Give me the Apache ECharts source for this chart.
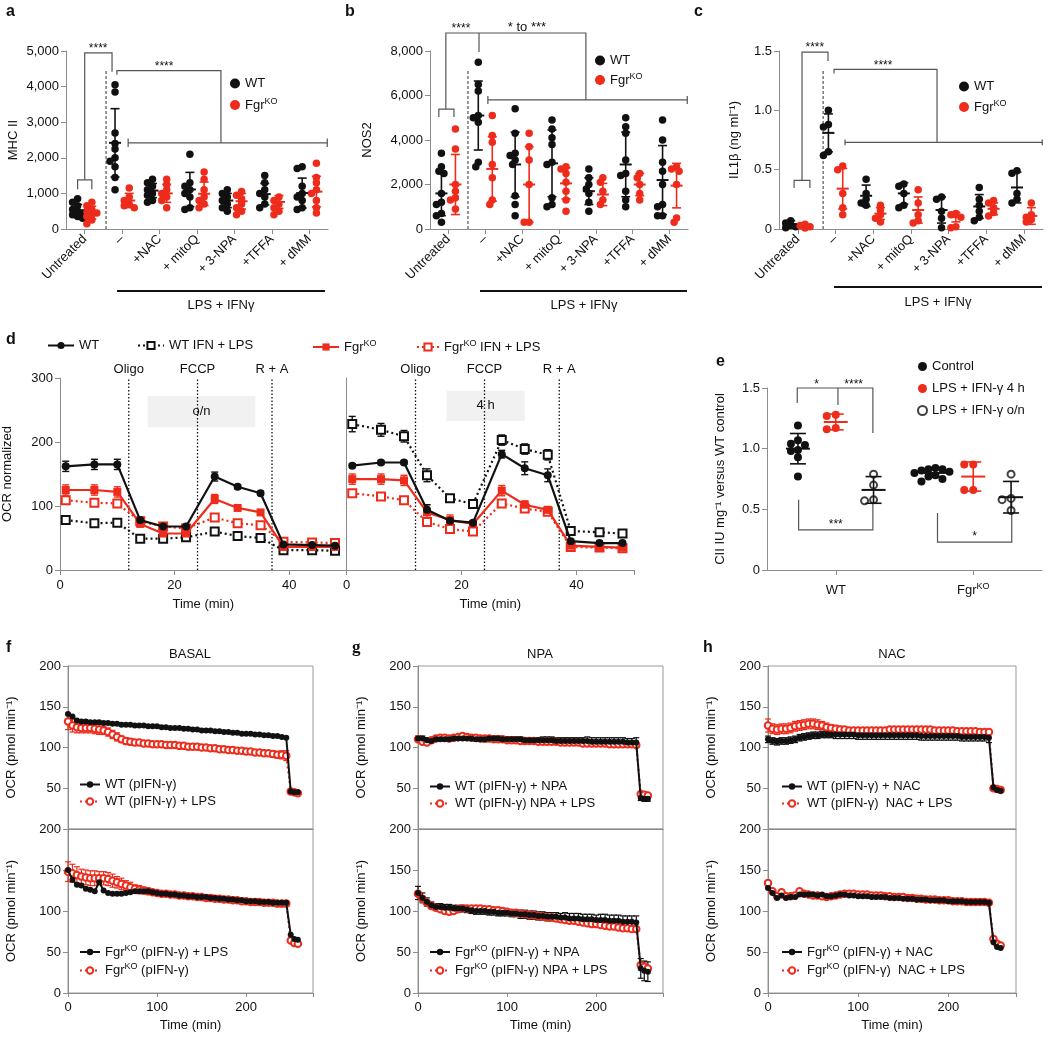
<!DOCTYPE html>
<html><head><meta charset="utf-8">
<script src="https://cdn.jsdelivr.net/npm/echarts@6/dist/echarts.min.js"></script>
<style>html,body{margin:0;background:#fff}#c{width:1050px;height:1038px}</style>
</head><body><div id="c"></div>
<script>
// ---------------- DATA ----------------
const TREAT_CATS = ['Untreated','–','+NAC','+ mitoQ','+ 3-NPA','+TFFA','+ dMM'];
// a: MHC II
const aWT = [[850,750,650,550,500,450,400,350,300],[4050,3850,2700,2400,2250,2000,1900,1750,1450,1100],[1400,1300,1200,1100,1000,950,800,750],[2100,1300,1200,1100,1000,900,600,550],[1100,1000,900,800,700,600,500],[1500,1300,1100,1000,900,700,600],[1750,1700,1200,1000,900,800,600,550]];
const aWTmean = [520,2420,1080,1110,800,980,1010];
const aWTsd = [170,960,200,480,200,300,420];
const aKO = [[750,650,550,500,450,400,350,250,150],[1150,900,800,700,650,600],[1400,1250,1100,1000,900,800,600],[1600,1400,1100,900,800,700,600],[1050,950,850,700,600,500,400],[900,800,700,600,500,400],[1850,1450,1300,1100,1000,800,600,450]];
const aKOmean = [460,800,1000,990,780,760,1050];
const aKOsd = [180,200,250,330,220,180,430];
// b: NOS2
const bWT = [[3400,2800,2600,2500,1600,1200,1100,700,600,300],[7500,6500,6200,5100,5000,4800,3000,2800],[5400,4300,3400,3300,3100,2900,1500,1100,600],[4900,4500,4100,3800,3000,2900,1400,1100,1000],[2700,2300,2000,1800,1600,1200,800],[5000,4600,4300,3100,2500,2400,1700,1300,1000],[4900,4000,3000,2600,2000,1100,1000,600,600]];
const bWTmean = [1600,5100,2900,2950,1700,2900,2200];
const bWTsd = [1000,1550,1450,1500,600,1450,1550];
const bKO = [[4500,3600,2000,1700,1400,1300,900],[5100,4200,3900,2900,2300,1300,1100],[4300,3700,3100,2000,300,300],[2800,2700,2500,2100,1700,1300,800],[2300,2100,1700,1300,1100],[2500,2300,2000,1600,1300],[2800,2700,2600,2000,500,300]];
const bKOmean = [2000,2700,2000,2050,1550,2000,1950];
const bKOsd = [1350,1450,1700,700,500,500,1000];
// c: IL1b
const cWT = [[0.07,0.05,0.03,0.02,0.01],[1.0,0.88,0.86,0.65,0.62],[0.42,0.3,0.25,0.22,0.2],[0.38,0.36,0.3,0.2,0.18],[0.27,0.25,0.15,0.09,0.01],[0.35,0.25,0.2,0.15,0.1,0.07],[0.49,0.47,0.3,0.25,0.22]];
const cWTmean = [0.04,0.81,0.28,0.3,0.16,0.19,0.35];
const cWTsd = [0.03,0.16,0.09,0.09,0.11,0.1,0.13];
const cKO = [[0.04,0.03,0.02,0.01,0.01],[0.53,0.5,0.3,0.18,0.12],[0.2,0.16,0.12,0.09,0.06],[0.33,0.22,0.12,0.07,0.05],[0.13,0.12,0.1,0.02,0.01],[0.24,0.22,0.18,0.14,0.11],[0.22,0.12,0.1,0.08,0.06]];
const cKOmean = [0.02,0.34,0.13,0.16,0.1,0.17,0.11];
const cKOsd = [0.01,0.17,0.05,0.11,0.04,0.05,0.07];
// d: OCR normalized
const dTime = [1,6,10,14,18,22,27,31,35,39,44,48];
const dOnWT = [162,165,165,78,68,68,146,130,120,40,39,38];
const dOnWTerr = [8,8,8,3,3,3,7,3,3,3,3,3];
const dOnWTifn = [78,73,74,49,49,51,60,53,50,31,31,30];
const dOnWTifnErr = [4,4,4,3,3,3,4,3,3,3,3,3];
const dOnKO = [125,125,122,72,57,57,111,97,90,36,36,36];
const dOnKOerr = [8,8,8,4,4,4,7,4,4,3,3,3];
const dOnKOifn = [109,105,104,76,68,65,82,73,70,44,43,42];
const dOnKOifnErr = [4,4,4,4,3,3,5,4,4,3,3,3];
const d4hWT = [163,168,168,94,77,74,181,159,148,45,42,42];
const d4hWTerr = [3,3,3,8,4,3,6,10,10,3,3,3];
const d4hWTifn = [228,219,209,148,112,103,203,189,180,61,59,57];
const d4hWTifnErr = [12,10,9,10,3,3,8,8,8,3,3,3];
const d4hKO = [142,142,140,90,78,72,124,102,94,38,36,35];
const d4hKOerr = [8,8,8,12,8,5,8,6,5,3,3,3];
const d4hKOifn = [120,115,109,75,64,60,104,96,91,36,35,34];
const d4hKOifnErr = [4,4,4,5,5,4,4,4,4,3,3,3];
const dInjections = [['Oligo',12],['FCCP',24],['R + A',37]];
// e: CII activity
const eCats = ['WT','FgrKO'];
const eControl = [[1.19,1.07,1.04,1.03,0.99,0.98,0.93,0.77],[0.84,0.83,0.83,0.82,0.81,0.80,0.78,0.77,0.75,0.73]];
const eControlMean = [1.0,0.80], eControlSd = [0.125,0.035];
const e4h = [[1.28,1.27,1.17,1.16],[0.87,0.87,0.66,0.66]];
const e4hMean = [1.22,0.77], e4hSd = [0.065,0.12];
const eOn = [[0.79,0.70,0.58,0.57],[0.79,0.59,0.58,0.49]];
const eOnMean = [0.66,0.60], eOnSd = [0.11,0.13];
// f/g/h: OCR time course
const T = [0,5,10,15,20,25,30,35,40,45,50,55,60,65,70,75,80,85,90,95,100,105,110,115,120,125,130,135,140,145,150,155,160,165,170,175,180,185,190,195,200,205,210,215,220,225,230,235,240,245,250,254,258];
const fTopWT = [141,138,133,132,132,131,131,131,130,130,129,129,128,128,128,127,127,127,126,126,126,125,125,124,124,124,123,123,122,122,121,121,121,120,120,119,119,118,118,117,117,117,116,116,115,115,114,114,113,112,46,45,45];
const fTopLPS = [132,127,125,124,124,124,123,122,121,119,116,113,110,108,107,106,106,105,105,104,104,104,103,103,103,102,102,101,101,101,100,100,99,99,98,98,97,97,96,96,95,95,94,94,93,93,92,91,91,90,46,45,44];
const fTopLPSerr = [10,8,7,6,6,6,6,6,5,5,5,5,4,4,4,3,3,3,3,3,3,3,3,3,3,3,3,3,3,3,3,3,3,3,3,3,3,3,3,3,3,3,3,3,3,3,4,4,5,6,3,2,2];
const fBotLPS = [150,138,132,131,127,126,124,135,125,122,121,121,121,122,123,124,124,124,124,123,122,121,121,120,120,119,119,118,118,117,117,117,116,116,115,115,114,114,113,113,112,112,112,111,111,111,110,110,110,110,71,66,65];
const fBotKO = [148,146,144,142,141,140,140,140,140,139,137,135,133,131,129,127,126,125,124,123,122,121,121,120,120,119,119,118,118,117,117,116,116,115,115,114,114,113,113,112,112,111,111,111,110,110,110,109,109,109,64,61,60];
const fBotKOerr = [12,11,10,9,9,9,9,8,8,8,8,7,7,6,6,5,5,4,4,3,3,3,3,3,3,3,3,3,3,3,3,3,3,3,3,3,3,3,3,3,3,3,3,3,3,3,3,3,3,3,2,2,2];
const gTopWT = [111,111,109,108,110,110,110,110,111,111,111,111,111,110,110,110,111,111,111,110,110,110,110,110,109,109,109,109,109,109,109,108,108,108,108,108,108,108,108,107,107,107,107,107,107,107,107,106,106,106,38,37,37];
const gTopWTerr = [3,3,3,2,2,2,2,2,2,2,2,2,2,2,2,3,3,3,3,3,3,3,3,3,3,3,3,3,4,4,4,4,4,4,4,4,4,4,5,5,5,5,5,5,5,5,5,5,5,6,3,3,3];
const gTopLPS = [110,107,106,109,111,112,112,111,112,113,114,113,112,112,111,111,111,110,110,110,109,109,109,108,108,108,108,107,107,107,107,107,106,106,106,106,106,105,105,105,105,105,105,104,104,104,104,104,104,103,43,42,41];
const gBotWT = [122,116,111,107,105,105,104,104,103,103,103,102,101,100,100,100,99,99,98,98,98,97,97,96,96,95,95,94,94,93,93,93,92,92,91,91,91,90,90,90,89,89,89,88,88,88,87,87,87,86,30,27,26];
const gBotWTerr = [8,6,5,4,4,4,4,4,4,4,4,4,4,4,4,4,4,4,4,4,4,4,4,5,5,5,5,5,5,5,5,5,5,6,6,6,6,6,6,6,6,7,7,7,7,7,7,7,7,8,12,12,12];
const gBotLPS = [121,115,110,106,104,102,100,99,100,102,103,103,103,103,103,102,102,101,101,100,99,98,98,97,96,95,95,94,93,92,92,91,90,89,88,88,87,86,85,84,84,83,82,81,81,80,79,79,78,78,34,32,30];
const hTopWT = [110,108,107,108,108,109,110,112,113,114,115,115,116,116,116,116,116,116,116,116,115,115,115,115,115,115,115,115,115,115,115,115,115,115,114,114,114,114,114,114,114,114,114,113,113,113,113,113,113,112,51,48,47];
const hTopWTerr = [4,4,4,4,4,4,4,4,4,4,4,4,4,4,4,5,5,5,5,5,5,5,5,5,5,5,5,5,5,5,5,5,5,5,5,5,5,5,5,5,5,5,5,5,5,5,5,5,5,6,2,2,2];
const hTopLPS = [127,123,122,123,123,124,126,127,128,129,129,128,127,125,124,123,122,122,121,121,121,121,121,121,121,121,121,122,122,122,122,122,122,122,122,122,122,121,121,121,121,121,120,120,120,120,120,119,119,119,50,49,48];
const hTopLPSerr = [8,6,6,6,6,6,6,6,6,6,6,6,5,5,4,4,4,3,3,3,3,3,3,3,3,3,3,3,3,3,3,3,3,3,3,3,3,3,3,3,3,3,3,3,3,3,3,3,3,3,2,2,2];
const hBotWT = [128,122,116,119,116,117,117,120,120,120,120,119,120,118,118,119,120,120,119,119,118,118,118,117,117,117,117,116,116,116,115,115,115,114,114,114,113,113,113,113,112,112,112,112,111,111,111,111,111,110,62,56,55];
const hBotLPS = [134,124,118,123,118,118,119,124,121,120,119,119,118,117,118,119,120,121,121,121,120,120,120,119,119,119,118,118,117,117,117,116,116,115,115,114,114,114,113,113,113,112,112,112,111,111,111,111,111,110,66,60,58];

// ---------------- STYLE / HELPERS ----------------
const FONT = '"Liberation Sans", Arial, Helvetica, sans-serif';
const RED = '#ee2c1c', BLK = '#111', AXC = '#8c8c8c', BRK = '#555';
const RICH = {
  n: {fontSize: 13, fontFamily: FONT, color: BLK, lineHeight: 16},
  s: {fontSize: 9, fontFamily: FONT, color: BLK, lineHeight: 16, verticalAlign: 'top'}
};
function fmt(name) {
  const parts = name.trim().split('KO');
  return parts.map(p => p ? '{n|' + p + '}' : '').join('{s|KO}');
}
function swarm(vals, pxPerVal, step, d) {
  const idx = vals.map((v, i) => i).sort((a, b) => vals[b] - vals[a]);
  const placed = [], off = new Array(vals.length).fill(0);
  const cands = [0, -step, step, -2 * step, 2 * step, -3 * step, 3 * step];
  idx.forEach(i => {
    const y = vals[i] * pxPerVal;
    for (const c of cands) {
      if (placed.every(p => (p.x - c) * (p.x - c) + (p.y - y) * (p.y - y) >= d * d)) { off[i] = c; placed.push({x: c, y}); return; }
    }
    placed.push({x: 0, y});
  });
  return off;
}
function dots(groups, shift, pxPerUnit, pxPerVal, step, d) {
  const out = [];
  groups.forEach((vals, g) => {
    const off = swarm(vals, pxPerVal, step, d);
    vals.forEach((v, i) => out.push([g + shift + off[i] / pxPerUnit, v]));
  });
  return out;
}
function statData(mean, sd, shift) { return mean.map((m, g) => [g + shift, m, sd[g]]); }
function errSeries(data, xi, yi, color, meanHalf, capHalf, lw, z) {
  return {
    type: 'custom', xAxisIndex: xi, yAxisIndex: yi, data, z: z || 6, silent: true, animation: false,
    renderItem(p, api) {
      const x = api.value(0), m = api.value(1), s = api.value(2);
      const c = api.coord([x, m]), t = api.coord([x, m + s]), b = api.coord([x, m - s]);
      const st = {stroke: color, lineWidth: lw};
      const ch = [
        {type: 'line', shape: {x1: c[0], y1: t[1], x2: c[0], y2: b[1]}, style: st},
        {type: 'line', shape: {x1: c[0] - capHalf, y1: t[1], x2: c[0] + capHalf, y2: t[1]}, style: st},
        {type: 'line', shape: {x1: c[0] - capHalf, y1: b[1], x2: c[0] + capHalf, y2: b[1]}, style: st}
      ];
      if (meanHalf) ch.push({type: 'line', shape: {x1: c[0] - meanHalf, y1: c[1], x2: c[0] + meanHalf, y2: c[1]}, style: {stroke: color, lineWidth: lw + 0.4}});
      return {type: 'group', children: ch};
    }
  };
}
// annotation series drawn in data coordinates
function annot(xi, yi, items, z) {
  return {
    type: 'custom', xAxisIndex: xi, yAxisIndex: yi, data: [[0, 0]], z: z == null ? 3 : z, silent: true, animation: false,
    renderItem(p, api) {
      const ch = [];
      items.forEach(it => {
        if (it.poly) {
          ch.push({type: 'polyline', shape: {points: it.poly.map(q => api.coord(q))},
            style: {stroke: it.color || BRK, lineWidth: it.lw || 1.2, fill: null, lineDash: it.dash || null}});
        } else if (it.rect) {
          const a = api.coord(it.rect[0]), b = api.coord(it.rect[1]);
          ch.push({type: 'rect', shape: {x: Math.min(a[0], b[0]), y: Math.min(a[1], b[1]), width: Math.abs(b[0] - a[0]), height: Math.abs(b[1] - a[1])}, style: {fill: it.fill}});
        } else if (it.text) {
          const a = api.coord(it.at);
          ch.push({type: 'text', x: a[0] + (it.dx || 0), y: a[1] + (it.dy || 0),
            style: {text: it.text, fill: it.color || BLK, font: (it.size || 13) + 'px ' + FONT,
              align: 'center', verticalAlign: 'middle', textAlign: 'center', textVerticalAlign: 'middle'}});
        }
      });
      return {type: 'group', children: ch};
    }
  };
}
const lbl = {color: BLK, fontSize: 13, fontFamily: FONT};
const axLine = {show: true, onZero: false, lineStyle: {color: AXC, width: 1}};
const axTick = {show: true, lineStyle: {color: AXC}, length: 5};

// ---------------- LAYOUT ----------------
const grids = [
  {left: 66, top: 51, width: 262, height: 178},   // a
  {left: 430, top: 51, width: 258, height: 178},  // b
  {left: 779, top: 51, width: 264, height: 178},  // c
  {left: 59, top: 378, width: 287.5, height: 192},  // d left
  {left: 346.5, top: 378, width: 287.5, height: 192}, // d right
  {left: 767, top: 388, width: 275, height: 182},  // e
  {left: 68, top: 666, width: 245, height: 163},   // f top
  {left: 68, top: 829, width: 245, height: 164},   // f bottom
  {left: 418, top: 666, width: 245, height: 163},  // g top
  {left: 418, top: 829, width: 245, height: 164},  // g bottom
  {left: 768, top: 666, width: 248, height: 163},  // h top
  {left: 768, top: 829, width: 248, height: 164}   // h bottom
];
grids.forEach((g, i) => { if (i >= 6) { g.show = true; g.borderColor = '#9a9a9a'; g.borderWidth = 1; } });

const xAxis = [], yAxis = [];
function catX(gi, cats, rotate) {
  xAxis.push({type: 'category', gridIndex: gi, data: cats,
    axisLine: axLine, axisTick: {show: true, alignWithLabel: true, length: 5, lineStyle: {color: AXC}},
    axisLabel: Object.assign({rotate: rotate, margin: 8, interval: 0, rich: RICH, formatter: v => fmt(v)}, lbl)});
  return xAxis.length - 1;
}
function hidX(gi, min, max) { xAxis.push({type: 'value', gridIndex: gi, min, max, show: false, axisLine: {onZero: false}}); return xAxis.length - 1; }
function valY(gi, min, max, interval, fmtFn, name, nameGap, showLabels) {
  yAxis.push({type: 'value', gridIndex: gi, min, max, interval, splitLine: {show: false},
    axisLine: axLine, axisTick: showLabels === false ? {show: false} : axTick,
    axisLabel: Object.assign({show: showLabels !== false, formatter: fmtFn, margin: 7}, lbl),
    name: name || '', nameLocation: 'middle', nameGap: nameGap || 40, nameRotate: 90,
    nameTextStyle: {color: BLK, fontSize: 13, fontFamily: FONT}});
  return yAxis.length - 1;
}
const commas = v => v.toLocaleString('en-US');
const dec1 = v => v === 0 ? '0' : v.toFixed(1);

// a
const aX = catX(0, TREAT_CATS, 45), aXv = hidX(0, -0.5, 6.5), aY = valY(0, 0, 5000, 1000, commas, 'MHC II', 46);
// b
const bX = catX(1, TREAT_CATS, 45), bXv = hidX(1, -0.5, 6.5), bY = valY(1, 0, 8000, 2000, commas, 'NOS2', 56);
// c
const cX = catX(2, TREAT_CATS, 45), cXv = hidX(2, -0.5, 6.5), cY = valY(2, 0, 1.5, 0.5, dec1, 'IL1β (ng ml⁻¹)', 38);
// d
function dX(gi) {
  xAxis.push({type: 'value', gridIndex: gi, min: 0, max: 50, interval: 20, splitLine: {show: false},
    axisLine: axLine, axisTick: {show: true, length: 5, lineStyle: {color: AXC}},
    axisLabel: Object.assign({formatter: v => (v % 20 === 0 ? String(v) : ''), margin: 9}, lbl),
    name: 'Time (min)', nameLocation: 'middle', nameGap: 28, nameTextStyle: {color: BLK, fontSize: 13, fontFamily: FONT}});
  return xAxis.length - 1;
}
const dXl = dX(3), dXr = dX(4);
const dYl = valY(3, 0, 300, 100, v => String(v), 'OCR normalized', 46);
const dYr = valY(4, 0, 300, 100, v => String(v), '', 0, false);
// e
const eX = catX(5, eCats, 0), eXv = hidX(5, -0.5, 1.5), eY = valY(5, 0, 1.5, 0.5, dec1, 'CII IU mg⁻¹ versus WT control', 40);
xAxis[eX].axisLabel.margin = 12;
// f/g/h
const fghX = [], fghY = [];
for (let k = 0; k < 6; k++) {
  const gi = 6 + k, bottom = k % 2 === 1;
  xAxis.push({type: 'value', gridIndex: gi, min: 0, max: 275, interval: 100, splitLine: {show: false},
    axisLine: axLine, axisTick: {show: bottom, length: 4, lineStyle: {color: AXC}},
    axisLabel: Object.assign({show: bottom, formatter: v => (v % 100 === 0 ? String(v) : ''), margin: 8}, lbl),
    name: bottom ? 'Time (min)' : '', nameLocation: 'middle', nameGap: 26, nameTextStyle: {color: BLK, fontSize: 13, fontFamily: FONT}});
  fghX.push(xAxis.length - 1);
  fghY.push(valY(gi, 0, 200, 50, v => (!bottom && v === 0) ? '' : String(v), 'OCR (pmol min⁻¹)', 50));
}

// ---------------- SERIES ----------------
const series = [];
function dotSeries(name, data, xi, yi, color, symbol, size) {
  return {name, type: 'scatter', xAxisIndex: xi, yAxisIndex: yi, data, symbol: symbol || 'circle', symbolSize: size || 7,
    itemStyle: symbol === 'emptyCircle' ? {color: color, borderColor: color, borderWidth: 1.6} : {color: color, opacity: 1},
    z: 4, silent: true, animation: false};
}
// panels a-c
[[aXv, aY, aWT, aKO, aWTmean, aWTsd, aKOmean, aKOsd, 262 / 7, 178 / 5000],
 [bXv, bY, bWT, bKO, bWTmean, bWTsd, bKOmean, bKOsd, 258 / 7, 178 / 8000],
 [cXv, cY, cWT, cKO, cWTmean, cWTsd, cKOmean, cKOsd, 264 / 7, 178 / 1.5]].forEach(P => {
  const [xi, yi, wt, ko, wm, ws, km, ks, ppu, ppv] = P;
  series.push(dotSeries('WT ', dots(wt, -0.19, ppu, ppv, 2.5, 4.5), xi, yi, BLK, 'circle', 7.5));
  series.push(dotSeries('FgrKO ', dots(ko, 0.19, ppu, ppv, 2.5, 4.5), xi, yi, RED, 'circle', 7.5));
  series.push(errSeries(statData(wm, ws, -0.19), xi, yi, BLK, 6, 4.5, 1.6));
  series.push(errSeries(statData(km, ks, 0.19), xi, yi, RED, 6, 4.5, 1.6));
});
// brackets a
series.push(annot(aXv, aY, [
  {poly: [[-0.19, 1120], [-0.19, 1380], [0.19, 1380], [0.19, 1120]]},
  {poly: [[0, 1380], [0, 4950], [0.73, 4950], [0.73, 4420]]},
  {poly: [[0.57, 0], [0.57, 4480]], dash: [3, 2]},
  {poly: [[0.86, 4330], [0.86, 4450], [3.64, 4450], [3.64, 2420]]},
  {poly: [[1.16, 2420], [6.48, 2420]]}, {poly: [[1.16, 2300], [1.16, 2540]]}, {poly: [[6.48, 2300], [6.48, 2540]]},
  {text: '****', at: [0.36, 4950], dy: -4, size: 12},
  {text: '****', at: [2.12, 4450], dy: -4, size: 12}
]));
series.push(annot(bXv, bY, [
  {poly: [[-0.26, 5030], [-0.26, 5390], [0.15, 5390], [0.15, 5030]]},
  {poly: [[-0.07, 5390], [-0.07, 8810], [3.73, 8810], [3.73, 5800]]},
  {poly: [[0.83, 8810], [0.83, 7960]]},
  {poly: [[0.53, 0], [0.53, 7150]], dash: [3, 2]},
  {poly: [[1.07, 5800], [6.48, 5800]]}, {poly: [[1.07, 5620], [1.07, 5980]]}, {poly: [[6.48, 5620], [6.48, 5980]]},
  {text: '****', at: [0.34, 8810], dy: -4, size: 12},
  {text: '* to ***', at: [2.13, 8810], dy: -6, size: 13}
]));
series.push(annot(cXv, cY, [
  {poly: [[-0.1, 0.345], [-0.1, 0.41], [0.32, 0.41], [0.32, 0.345]]},
  {poly: [[0.11, 0.41], [0.11, 1.49], [0.8, 1.49], [0.8, 1.415]]},
  {poly: [[0.67, 0], [0.67, 1.34]], dash: [3, 2]},
  {poly: [[0.96, 1.31], [0.96, 1.345], [3.69, 1.345], [3.69, 0.73]]},
  {poly: [[1.25, 0.73], [6.48, 0.73]]}, {poly: [[1.25, 0.705], [1.25, 0.755]]}, {poly: [[6.48, 0.705], [6.48, 0.755]]},
  {text: '****', at: [0.45, 1.49], dy: -4, size: 12},
  {text: '****', at: [2.26, 1.345], dy: -4, size: 12}
]));

// panel d
function dAnnot(xi, yi, box, boxLabel) {
  const items = [{rect: box, fill: '#f1f1f1'}, {text: boxLabel, at: [(box[0][0] + box[1][0]) / 2, (box[0][1] + box[1][1]) / 2]}];
  dInjections.forEach(([t, x]) => {
    items.push({poly: [[x, 0], [x, 300]], color: BLK, lw: 1.3, dash: [1.5, 2]});
    items.push({text: t, at: [x, 300], dy: -9});
  });
  return annot(xi, yi, items, 1);
}
series.push(dAnnot(dXl, dYl, [[15.3, 272], [34.1, 223]], 'o/n'));
series.push(dAnnot(dXr, dYr, [[17.4, 280], [31, 233]], '4 h'));
function lineSeries(name, xs, ys, xi, yi, color, symbol, size, dotted, lw, z) {
  const empty = symbol.startsWith('empty');
  return {name, type: 'line', xAxisIndex: xi, yAxisIndex: yi, data: xs.map((x, i) => [x, ys[i]]),
    symbol, symbolSize: size, showSymbol: true, showAllSymbol: true, silent: true, animation: false,
    lineStyle: {color, width: lw || 2, type: dotted ? [2, 3] : 'solid'},
    itemStyle: empty ? {color: color, borderColor: color, borderWidth: 1.6} : {color: color},
    z: z || 5};
}
function errPts(xs, ys, es) { return xs.map((x, i) => [x, ys[i], es[i]]); }
[[dXl, dYl, dOnWT, dOnWTerr, dOnWTifn, dOnWTifnErr, dOnKO, dOnKOerr, dOnKOifn, dOnKOifnErr],
 [dXr, dYr, d4hWT, d4hWTerr, d4hWTifn, d4hWTifnErr, d4hKO, d4hKOerr, d4hKOifn, d4hKOifnErr]].forEach(P => {
  const [xi, yi, wt, wte, wi, wie, ko, koe, ki, kie] = P;
  series.push(errSeries(errPts(dTime, ki, kie), xi, yi, RED, 0, 3.5, 1.4, 4));
  series.push(errSeries(errPts(dTime, wi, wie), xi, yi, BLK, 0, 3.5, 1.4, 4));
  series.push(errSeries(errPts(dTime, ko, koe), xi, yi, RED, 0, 3.5, 1.4, 4));
  series.push(errSeries(errPts(dTime, wt, wte), xi, yi, BLK, 0, 3.5, 1.4, 4));
  series.push(lineSeries('FgrKO IFN + LPS', dTime, ki, xi, yi, RED, 'emptyRect', 8, true, 2.2, 5));
  series.push(lineSeries('WT IFN + LPS', dTime, wi, xi, yi, BLK, 'emptyRect', 8, true, 2.2, 5));
  series.push(lineSeries('FgrKO', dTime, ko, xi, yi, RED, 'rect', 8, false, 2.2, 6));
  series.push(lineSeries('WT', dTime, wt, xi, yi, BLK, 'circle', 8, false, 2.2, 7));
});

// panel e
const ePPU = 275 / 2, ePPV = 182 / 1.5;
series.push(dotSeries('Control', dots(eControl, -0.275, ePPU, ePPV, 7, 7), eXv, eY, BLK, 'circle', 8));
series.push(dotSeries('LPS + IFN-γ 4 h', dots(e4h, 0, ePPU, ePPV, 9, 8), eXv, eY, RED, 'circle', 8));
series.push(dotSeries('LPS + IFN-γ o/n', dots(eOn, 0.275, ePPU, ePPV, 9, 8), eXv, eY, BLK, 'emptyCircle', 7));
series.push(errSeries(statData(eControlMean, eControlSd, -0.275), eXv, eY, BLK, 12, 8, 1.6));
series.push(errSeries(statData(e4hMean, e4hSd, 0), eXv, eY, RED, 12, 8, 1.6));
series.push(errSeries(statData(eOnMean, eOnSd, 0.275), eXv, eY, BLK, 12, 8, 1.6));
series.push(annot(eXv, eY, [
  {poly: [[-0.28, 1.376], [-0.28, 1.5], [0.27, 1.5], [0.27, 1.13]]},
  {poly: [[0.016, 1.5], [0.016, 1.36]]},
  {poly: [[-0.27, 0.58], [-0.27, 0.33], [0.27, 0.33], [0.27, 0.59]]},
  {poly: [[0.74, 0.47], [0.74, 0.23], [1.28, 0.23], [1.28, 0.58]]},
  {text: '*', at: [-0.14, 1.5], dy: -3, size: 12},
  {text: '****', at: [0.13, 1.5], dy: -3, size: 12},
  {text: '***', at: [0, 0.33], dy: -5, size: 12},
  {text: '*', at: [1.01, 0.23], dy: -5, size: 12}
]));

// panels f/g/h
const fghSets = [
  ['WT (pIFN-γ)', fTopWT, null, 'WT (pIFN-γ) + LPS', fTopLPS, fTopLPSerr],
  ['FgrKO (pIFN-γ) + LPS', fBotLPS, null, 'FgrKO (pIFN-γ)', fBotKO, fBotKOerr],
  ['WT (pIFN-γ) + NPA', gTopWT, gTopWTerr, 'WT (pIFN-γ) NPA + LPS', gTopLPS, null],
  ['FgrKO (pIFN-γ) + NPA', gBotWT, gBotWTerr, 'FgrKO (pIFN-γ) NPA + LPS', gBotLPS, null],
  ['WT (pIFN-γ) + NAC', hTopWT, hTopWTerr, 'WT (pIFN-γ)  NAC + LPS', hTopLPS, hTopLPSerr],
  ['FgrKO (pIFN-γ) + NAC', hBotWT, null, 'FgrKO (pIFN-γ)  NAC + LPS', hBotLPS, null]
];
fghSets.forEach((S, k) => {
  const xi = fghX[k], yi = fghY[k];
  const [bn, bv, be, rn, rv, re] = S;
  if (re) series.push(errSeries(errPts(T, rv, re), xi, yi, RED, 0, 3, 1.2, 4));
  series.push(lineSeries(rn, T, rv, xi, yi, RED, 'emptyCircle', 6.5, true, 2, 5));
  if (be) series.push(errSeries(errPts(T, bv, be), xi, yi, BLK, 0, 3, 1.2, 5));
  series.push(lineSeries(bn, T, bv, xi, yi, BLK, 'circle', 6, false, 2, 6));
});

// ---------------- LEGENDS ----------------
const legTxt = {color: BLK, fontSize: 13, fontFamily: FONT, rich: RICH};
function leg(names, left, top, opts) {
  return Object.assign({data: names, left, top, orient: 'vertical', itemGap: 6, selectedMode: false,
    textStyle: legTxt, formatter: n => fmt(n), padding: 0}, opts || {});
}
const legends = [
  leg(['WT ', 'FgrKO '], 230, 77, {itemWidth: 10, itemHeight: 10, itemGap: 7, icon: 'circle'}),
  leg(['WT ', 'FgrKO '], 595, 54, {itemWidth: 10, itemHeight: 10, itemGap: 5, icon: 'circle'}),
  leg(['WT ', 'FgrKO '], 959, 80, {itemWidth: 10, itemHeight: 10, itemGap: 6, icon: 'circle'}),
  leg(['WT'], 47, 339, {itemWidth: 26, itemHeight: 9, itemGap: 0}),
  leg(['WT IFN + LPS'], 137, 339, {itemWidth: 26, itemHeight: 9}),
  leg(['FgrKO'], 312, 339, {itemWidth: 26, itemHeight: 9}),
  leg(['FgrKO IFN + LPS'], 416, 339, {itemWidth: 22, itemHeight: 9}),
  leg(['Control', 'LPS + IFN-γ 4 h', 'LPS + IFN-γ o/n'], 917, 360, {itemWidth: 9, itemHeight: 9, itemGap: 9})
];
const fghLegPos = [[79, 778], [79, 944], [429, 780], [429, 944], [781, 780], [781, 944]];
fghSets.forEach((S, k) => {
  legends.push(leg([S[0], S[3]], fghLegPos[k][0], fghLegPos[k][1], {itemWidth: 20, itemHeight: 8, itemGap: 4}));
});

// ---------------- GRAPHIC TEXT ----------------
function gtext(text, x, y, opts) {
  return {type: 'text', x, y, silent: true,
    style: {text, fill: BLK, font: (opts && opts.font) || ('13px ' + FONT), textAlign: (opts && opts.align) || 'left', textVerticalAlign: 'middle'}};
}
const graphic = [
  gtext('a', 6, 12, {font: 'bold 16px ' + FONT}),
  gtext('b', 345, 12, {font: 'bold 16px ' + FONT}),
  gtext('c', 694, 12, {font: 'bold 16px ' + FONT}),
  gtext('d', 6, 340, {font: 'bold 16px ' + FONT}),
  gtext('e', 716, 362, {font: 'bold 16px ' + FONT}),
  gtext('f', 6, 648, {font: 'bold 16px ' + FONT}),
  gtext('g', 352, 648, {font: 'bold 17px "Liberation Serif", serif'}),
  gtext('h', 703, 648, {font: 'bold 16px ' + FONT}),
  gtext('BASAL', 190, 654, {align: 'center'}),
  gtext('NPA', 540, 654, {align: 'center'}),
  gtext('NAC', 892, 654, {align: 'center'}),
  {type: 'line', shape: {x1: 117, y1: 291, x2: 325, y2: 291}, style: {stroke: BLK, lineWidth: 2}, silent: true},
  {type: 'line', shape: {x1: 480, y1: 291, x2: 687, y2: 291}, style: {stroke: BLK, lineWidth: 2}, silent: true},
  {type: 'line', shape: {x1: 834, y1: 287, x2: 1042, y2: 287}, style: {stroke: BLK, lineWidth: 2}, silent: true},
  gtext('LPS + IFNγ', 221, 305, {align: 'center'}),
  gtext('LPS + IFNγ', 584, 305, {align: 'center'}),
  gtext('LPS + IFNγ', 938, 302, {align: 'center'})
];

const chart = echarts.init(document.getElementById('c'), null, {renderer: 'canvas'});
chart.setOption({
  animation: false,
  backgroundColor: '#fff',
  textStyle: {fontFamily: FONT},
  grid: grids, xAxis, yAxis, series, legend: legends, graphic
});
</script>
</body></html>
